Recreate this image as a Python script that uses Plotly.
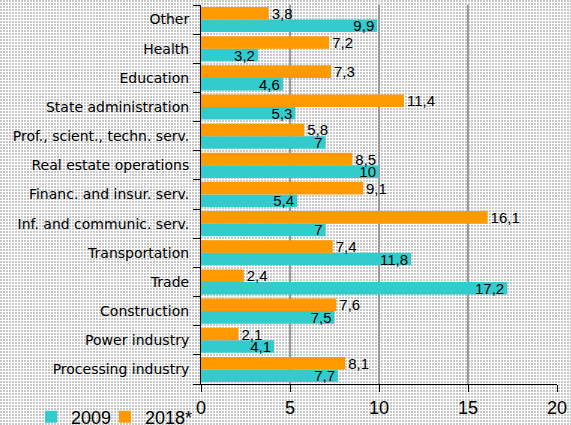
import base64
import plotly.graph_objects as go

# Categories listed from bottom to top (as in the chart)
categorias = [
    "Processing industry", "Power industry", "Construction", "Trade",
    "Transportation", "Inf. and communic. serv.", "Financ. and insur. serv.",
    "Real estate operations", "Prof., scient., techn. serv.",
    "State administration", "Education", "Health", "Other",
]
valores_2009 = [7.7, 4.1, 7.5, 17.2, 11.8, 7, 5.4, 10, 7, 5.3, 4.6, 3.2, 9.9]
valores_2018 = [8.1, 2.1, 7.6, 2.4, 7.4, 16.1, 9.1, 8.5, 5.8, 11.4, 7.3, 7.2, 3.8]
ticks_x = [0, 5, 10, 15, 20]

COLOR_2009 = "#33CCCC"
COLOR_2018 = "#FF9900"
FUENTE = "Liberation Sans, Arial, sans-serif"
FUENTE_ANCHA = "DejaVu Sans, sans-serif"


def etiqueta(v):
    # decimal comma, as in the original
    return f"{v:g}".replace(".", ",")


# dotted background pattern (whole page)
svg = (
    '<svg xmlns="http://www.w3.org/2000/svg" width="571" height="425">'
    '<defs><pattern id="p" width="3" height="3" patternUnits="userSpaceOnUse">'
    '<rect width="3" height="3" fill="#ffffff"/>'
    '<rect width="2" height="2" fill="#c8c8c8"/></pattern></defs>'
    '<rect width="571" height="425" fill="url(#p)"/></svg>'
)
fondo = "data:image/svg+xml;base64," + base64.b64encode(svg.encode()).decode()

ML, MR, MT, MB = 201, 14, 5, 41
W, H = 571, 425
pw, ph = W - ML - MR, H - MT - MB

fig = go.Figure()

fig.add_trace(go.Bar(
    y=categorias, x=valores_2009, orientation="h", name="2009",
    marker=dict(color=COLOR_2009, line_width=0),
    text=[etiqueta(v) for v in valores_2009],
    textposition="inside", insidetextanchor="end", constraintext="none",
    textangle=0, legend="legend", showlegend=True,
    textfont=dict(family=FUENTE, size=15, color="black"),
))
fig.add_trace(go.Bar(
    y=categorias, x=valores_2018, orientation="h", name="2018*",
    marker=dict(color=COLOR_2018, line_width=0),
    text=[etiqueta(v) for v in valores_2018],
    textposition="outside", constraintext="none", cliponaxis=False,
    textangle=0, legend="legend2", showlegend=True,
    textfont=dict(family=FUENTE, size=15, color="black"),
))


def leyenda(px_cuadro):
    # px_cuadro: left edge (page pixels) of the legend square
    return dict(
        x=(px_cuadro - 14 - ML) / pw, y=-33 / ph, xanchor="left",
        yanchor="middle", font=dict(size=18), bgcolor="rgba(0,0,0,0)",
        itemwidth=30, entrywidth=60, entrywidthmode="pixels",
    )


fig.update_layout(
    width=W, height=H, showlegend=True,
    margin=dict(l=ML, r=MR, t=MT, b=MB, autoexpand=False),
    barmode="group", bargap=0.14, bargroupgap=0,
    paper_bgcolor="white", plot_bgcolor="rgba(0,0,0,0)",
    font=dict(family=FUENTE, color="black"),
    images=[dict(
        source=fondo, xref="paper", yref="paper",
        x=-ML / pw, y=1 + MT / ph, sizex=W / pw, sizey=H / ph,
        xanchor="left", yanchor="top", sizing="stretch", layer="below",
    )],
    legend=leyenda(45),
    legend2=leyenda(119),
    xaxis=dict(
        range=[0, 20], tickvals=ticks_x, showgrid=True,
        gridcolor="#9a9a9a", gridwidth=1.5, zeroline=False,
        showline=True, linecolor="black", linewidth=1,
        ticks="outside", ticklen=7, tickcolor="black",
        tickfont=dict(size=18),
    ),
    yaxis=dict(
        showline=True, linecolor="black", linewidth=1,
        ticks="outside", ticklen=7, tickcolor="black", tickson="boundaries",
        ticklabelstandoff=8,
        tickfont=dict(family=FUENTE_ANCHA, size=14), showgrid=False,
    ),
)

# la pagina por defecto deja 8px de margen en el body
fig.write_html(
    "out.html",
    config={"displayModeBar": False},
    post_script="document.body.style.margin='0';",
)
